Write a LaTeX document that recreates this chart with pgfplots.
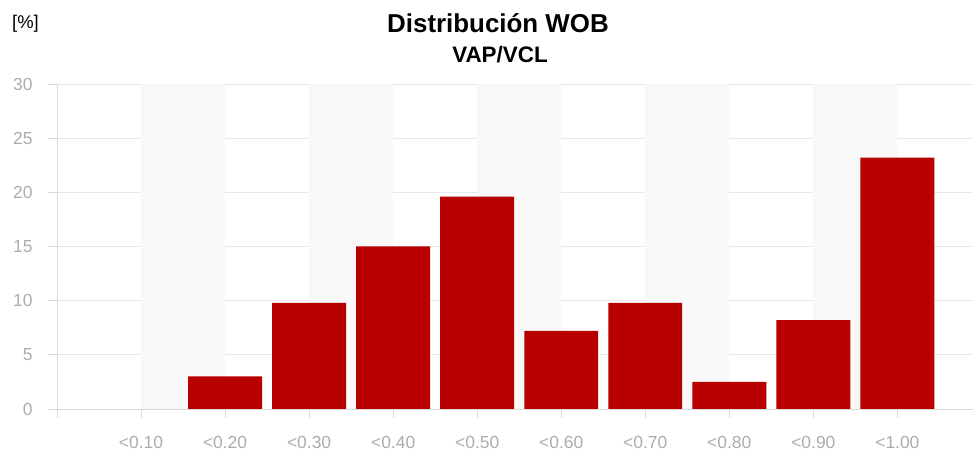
\documentclass[border=0pt]{standalone}
\usepackage{fontspec}
\setmainfont{Liberation Sans}
\usepackage{pgfplots}
\pgfplotsset{compat=1.18}
\definecolor{barred}{RGB}{184,0,0}
\definecolor{ticktext}{RGB}{172,172,172}
\definecolor{gridcol}{RGB}{232,232,232}
\definecolor{bandcol}{RGB}{248,248,248}
\definecolor{axcol}{RGB}{218,218,218}

\begin{document}
\begin{tikzpicture}
\begin{axis}[
    set layers,
    scale only axis,
    width=916bp, height=325bp,
    xmin=0, xmax=10.9,
    ymin=0, ymax=30,
    xtick={0,...,10},
    xticklabels={,<0.10,<0.20,<0.30,<0.40,<0.50,<0.60,<0.70,<0.80,<0.90,<1.00},
    ytick={0,5,...,30},
    axis x line*=bottom,
    axis y line*=left,
    axis line style={draw=axcol, -},
    tick style={draw=axcol, line width=0.8pt},
    tick align=outside,
    major tick length=9bp,
    ymajorgrids,
    grid style={draw=gridcol, line width=0.7pt},
    /pgf/number format/assume math mode=true,
    tick label style={font=\fontsize{17.5}{18}\selectfont, text=ticktext},
    yticklabel style={xshift=-12bp},
    xticklabel style={yshift=-15bp},
]
% alternating background bands
\fill[bandcol, on layer=axis background] (axis cs:1,0) rectangle (axis cs:2,30);
\fill[bandcol, on layer=axis background] (axis cs:3,0) rectangle (axis cs:4,30);
\fill[bandcol, on layer=axis background] (axis cs:5,0) rectangle (axis cs:6,30);
\fill[bandcol, on layer=axis background] (axis cs:7,0) rectangle (axis cs:8,30);
\fill[bandcol, on layer=axis background] (axis cs:9,0) rectangle (axis cs:10,30);
\addplot[ybar, bar width=0.88, fill=barred, draw=none] coordinates {
    (1,0) (2,3.0) (3,9.8) (4,15.0) (5,19.6)
    (6,7.2) (7,9.8) (8,2.5) (9,8.2) (10,23.2)
};
\end{axis}
\node[anchor=base, font=\fontsize{26}{27}\selectfont\bfseries] at (441bp,376bp) {Distribución WOB};
\node[anchor=base, font=\fontsize{22.5}{23}\selectfont\bfseries] at (443bp,346bp) {VAP/VCL};
\node[anchor=base west, inner sep=0pt, font=\fontsize{18.5}{19}\selectfont] at (-45bp,380bp) {[\%]};
\pgfresetboundingbox
\path[use as bounding box] (-57bp,-45bp) rectangle (916bp,409bp);
\end{tikzpicture}
\end{document}
